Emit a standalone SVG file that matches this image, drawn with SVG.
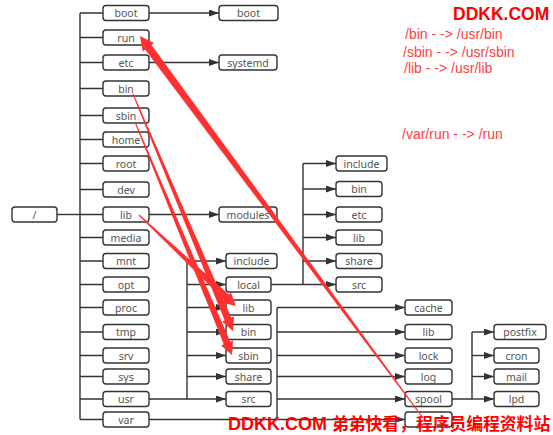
<svg xmlns="http://www.w3.org/2000/svg" width="553" height="435" viewBox="0 0 553 435">
<style>
.n rect{fill:#fff;stroke:#333;stroke-width:1.4}
.n text{font-family:"Noto Sans","Liberation Sans",sans-serif;font-size:10.5px;fill:#555;text-anchor:middle}
.c path{fill:none;stroke:#333;stroke-width:1.4}
.a{marker-end:url(#ah)}
.red{fill:#ff3030}
.ann{font-family:"Liberation Sans",sans-serif;font-size:14px;fill:#ff4040}
.wm{font-family:"Liberation Sans","Noto Sans CJK SC",sans-serif;font-weight:bold;fill:#ff0000}
</style>
<defs>
<marker id="ah" markerUnits="userSpaceOnUse" markerWidth="10" markerHeight="7" refX="10" refY="3.5" orient="auto">
<path d="M0,0 L10,3.5 L0,7 z" fill="#333"/>
</marker>
</defs>
<rect width="553" height="435" fill="#fff"/>

<g id="connectors" class="c">
<path d="M57,214.5 H80"/>
<path d="M80,13 V419.5"/>
<path d="M80,13 H103 M80,37.5 H103 M80,62.5 H103 M80,88.5 H103 M80,115.5 H103 M80,139.5 H103 M80,163.5 H103 M80,189.5 H103 M80,214.5 H103 M80,237.5 H103 M80,261 H103 M80,284.5 H103 M80,307.5 H103 M80,332 H103 M80,355.5 H103 M80,376.5 H103 M80,399 H103 M80,419.5 H103"/>
<path class="a" d="M149,13 H219"/>
<path class="a" d="M149,62.5 H219"/>
<path class="a" d="M149,214.5 H219"/>
<path d="M149,399 H187 M187,261 V399"/>
<path class="a" d="M187,261 H226"/>
<path class="a" d="M187,284.5 H226"/>
<path class="a" d="M187,307.5 H226"/>
<path class="a" d="M187,332 H226"/>
<path class="a" d="M187,355.5 H226"/>
<path class="a" d="M187,376.5 H226"/>
<path class="a" d="M187,399 H226"/>
<path d="M271,284.5 H303 M303,163.5 V284.5"/>
<path class="a" d="M303,163.5 H336"/>
<path class="a" d="M303,189 H336"/>
<path class="a" d="M303,214.5 H336"/>
<path class="a" d="M303,237.5 H336"/>
<path class="a" d="M303,261 H336"/>
<path class="a" d="M303,284.5 H336"/>
<path d="M149,419.5 H277 M277,307.5 V419.5"/>
<path class="a" d="M277,307.5 H405"/>
<path class="a" d="M277,332 H405"/>
<path class="a" d="M277,355.5 H405"/>
<path class="a" d="M277,376.5 H405"/>
<path class="a" d="M277,399 H405"/>
<path class="a" d="M277,419.5 H405"/>
<path d="M452,399 H472 M472,332 V399"/>
<path class="a" d="M472,332 H494"/>
<path class="a" d="M472,355.5 H494"/>
<path class="a" d="M472,376.5 H494"/>
<path class="a" d="M472,399 H494"/>
</g>

<g id="root" class="n"><rect x="12" y="207" width="45" height="15" rx="3"/><text x="34.5" y="218.5">/</text></g>

<g id="boot" class="n"><rect x="103" y="5.5" width="46" height="15" rx="3"/><text x="126" y="17">boot</text></g>
<g id="run" class="n"><rect x="103" y="30" width="46" height="15" rx="3"/><text x="126" y="41.5">run</text></g>
<g id="etc" class="n"><rect x="103" y="55" width="46" height="15" rx="3"/><text x="126" y="66.5">etc</text></g>
<g id="bin" class="n"><rect x="103" y="81" width="46" height="15" rx="3"/><text x="126" y="92.5">bin</text></g>
<g id="sbin" class="n"><rect x="103" y="108" width="46" height="15" rx="3"/><text x="126" y="119.5">sbin</text></g>
<g id="home" class="n"><rect x="103" y="132" width="46" height="15" rx="3"/><text x="126" y="143.5">home</text></g>
<g id="rootdir" class="n"><rect x="103" y="156" width="46" height="15" rx="3"/><text x="126" y="167.5">root</text></g>
<g id="dev" class="n"><rect x="103" y="182" width="46" height="15" rx="3"/><text x="126" y="193.5">dev</text></g>
<g id="lib" class="n"><rect x="103" y="207" width="46" height="15" rx="3"/><text x="126" y="218.5">lib</text></g>
<g id="media" class="n"><rect x="103" y="230" width="46" height="15" rx="3"/><text x="126" y="241.5">media</text></g>
<g id="mnt" class="n"><rect x="103" y="253.5" width="46" height="15" rx="3"/><text x="126" y="265">mnt</text></g>
<g id="opt" class="n"><rect x="103" y="277" width="46" height="15" rx="3"/><text x="126" y="288.5">opt</text></g>
<g id="proc" class="n"><rect x="103" y="300" width="46" height="15" rx="3"/><text x="126" y="311.5">proc</text></g>
<g id="tmp" class="n"><rect x="103" y="324.5" width="46" height="15" rx="3"/><text x="126" y="336">tmp</text></g>
<g id="srv" class="n"><rect x="103" y="348" width="46" height="15" rx="3"/><text x="126" y="359.5">srv</text></g>
<g id="sys" class="n"><rect x="103" y="369" width="46" height="15" rx="3"/><text x="126" y="380.5">sys</text></g>
<g id="usr" class="n"><rect x="103" y="391.5" width="46" height="15" rx="3"/><text x="126" y="403">usr</text></g>
<g id="var" class="n"><rect x="103" y="412" width="46" height="15" rx="3"/><text x="126" y="423.5">var</text></g>

<g id="boot-boot" class="n"><rect x="219" y="5.5" width="59" height="15" rx="3"/><text x="248.5" y="17">boot</text></g>
<g id="etc-systemd" class="n"><rect x="219" y="55" width="58" height="15" rx="3"/><text x="248" y="66.5">systemd</text></g>
<g id="lib-modules" class="n"><rect x="219" y="207" width="58" height="15" rx="3"/><text x="248" y="218.5">modules</text></g>

<g id="usr-include" class="n"><rect x="226" y="253.5" width="51" height="15" rx="3"/><text x="251.5" y="265">include</text></g>
<g id="usr-local" class="n"><rect x="226" y="277" width="45" height="15" rx="3"/><text x="248.5" y="288.5">local</text></g>
<g id="usr-lib" class="n"><rect x="226" y="300" width="45" height="15" rx="3"/><text x="248.5" y="311.5">lib</text></g>
<g id="usr-bin" class="n"><rect x="226" y="324.5" width="45" height="15" rx="3"/><text x="248.5" y="336">bin</text></g>
<g id="usr-sbin" class="n"><rect x="226" y="348" width="45" height="15" rx="3"/><text x="248.5" y="359.5">sbin</text></g>
<g id="usr-share" class="n"><rect x="226" y="369" width="45" height="15" rx="3"/><text x="248.5" y="380.5">share</text></g>
<g id="usr-src" class="n"><rect x="226" y="391.5" width="45" height="15" rx="3"/><text x="248.5" y="403">src</text></g>

<g id="local-include" class="n"><rect x="336" y="156" width="51" height="15" rx="3"/><text x="361.5" y="167.5">include</text></g>
<g id="local-bin" class="n"><rect x="336" y="181.5" width="46" height="15" rx="3"/><text x="359" y="193">bin</text></g>
<g id="local-etc" class="n"><rect x="336" y="207" width="46" height="15" rx="3"/><text x="359" y="218.5">etc</text></g>
<g id="local-lib" class="n"><rect x="336" y="230" width="46" height="15" rx="3"/><text x="359" y="241.5">lib</text></g>
<g id="local-share" class="n"><rect x="336" y="253.5" width="46" height="15" rx="3"/><text x="359" y="265">share</text></g>
<g id="local-src" class="n"><rect x="336" y="277" width="46" height="15" rx="3"/><text x="359" y="288.5">src</text></g>

<g id="var-cache" class="n"><rect x="405" y="300" width="47" height="15" rx="3"/><text x="428.5" y="311.5">cache</text></g>
<g id="var-lib" class="n"><rect x="405" y="324.5" width="47" height="15" rx="3"/><text x="428.5" y="336">lib</text></g>
<g id="var-lock" class="n"><rect x="405" y="348" width="47" height="15" rx="3"/><text x="428.5" y="359.5">lock</text></g>
<g id="var-log" class="n"><rect x="405" y="369" width="47" height="15" rx="3"/><text x="428.5" y="380.5">log</text></g>
<g id="var-spool" class="n"><rect x="405" y="391.5" width="47" height="15" rx="3"/><text x="428.5" y="403">spool</text></g>
<g id="var-run" class="n"><rect x="405" y="412" width="47" height="15" rx="3"/></g>

<g id="spool-postfix" class="n"><rect x="494" y="324.5" width="52" height="15" rx="3"/><text x="520" y="336">postfix</text></g>
<g id="spool-cron" class="n"><rect x="494" y="348" width="45" height="15" rx="3"/><text x="516.5" y="359.5">cron</text></g>
<g id="spool-mail" class="n"><rect x="494" y="369" width="45" height="15" rx="3"/><text x="516.5" y="380.5">mail</text></g>
<g id="spool-lpd" class="n"><rect x="494" y="391.5" width="45" height="15" rx="3"/><text x="516.5" y="403">lpd</text></g>

<g id="red-links" class="red">
<polygon points="423.4,417.7 151.5,44.9 154.0,43.0 140,36 142.7,51.4 145.1,49.6 422.6,418.3"/>
<polygon points="132.5,94.2 224.7,320.4 221.9,321.6 233,331 234.0,316.5 231.2,317.6 133.5,93.8"/>
<polygon points="134.5,122.2 223.8,344.3 221.0,345.5 232,355 233.0,340.5 230.2,341.7 135.5,121.8"/>
<polygon points="138.6,215.4 224.1,299.7 221.6,302.4 236,306 230.9,292.4 228.9,294.6 139.4,214.6"/>
</g>

<g id="notes">
<text class="ann" x="405" y="39">/bin - -&gt; /usr/bin</text>
<text class="ann" x="403" y="57">/sbin - -&gt; /usr/sbin</text>
<text class="ann" x="404" y="73">/lib - -&gt; /usr/lib</text>
<text class="ann" x="402" y="139">/var/run - -&gt; /run</text>
</g>

<text class="wm" x="453" y="20" font-size="17.5">DDKK.COM</text>
<text class="wm" x="228" y="430" font-size="18">DDKK.COM</text>
<text class="wm" x="332" y="430" font-size="16.8">弟弟快看，程序员编程资料站</text>
</svg>
